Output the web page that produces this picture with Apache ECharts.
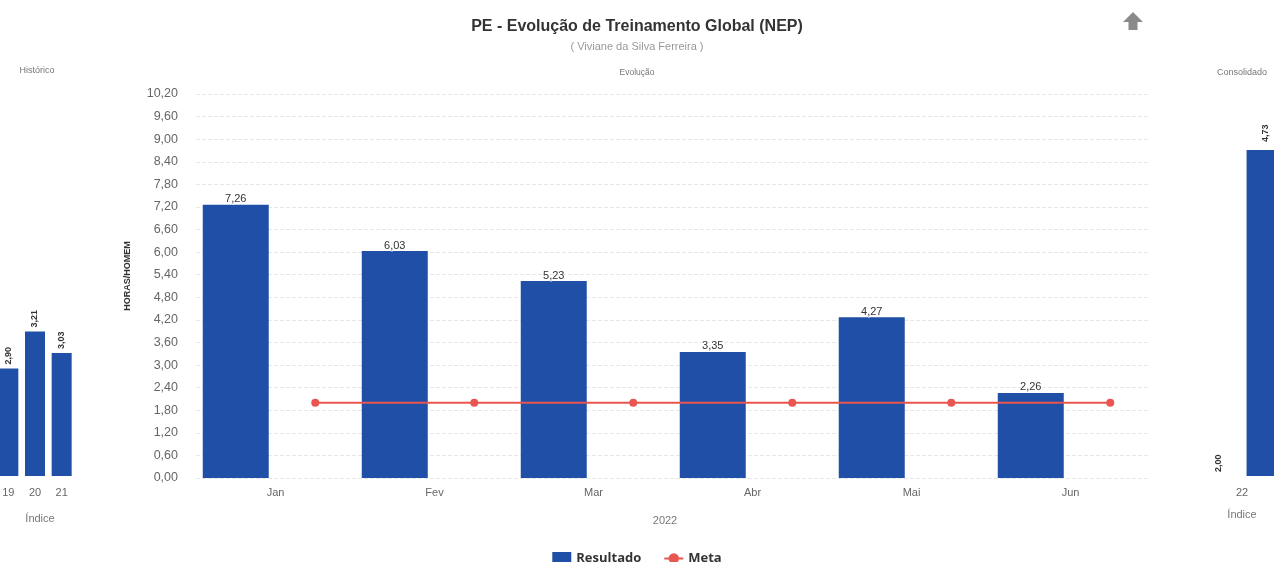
<!DOCTYPE html>
<html>
<head>
<meta charset="utf-8">
<script src="https://cdn.jsdelivr.net/npm/echarts@6/dist/echarts.min.js"></script>
<style>
  html, body { margin: 0; padding: 0; background: #ffffff; overflow: hidden; width: 1274px; height: 562px; position: relative; }
  /* the dashboard is wider than the window: the side panels are cut at both edges */
  #chart { position: absolute; left: -100px; top: 0; width: 1474px; height: 562px; }
</style>
</head>
<body>
<div id="chart"></div>
<script>
// ---- Data ----
const histCategories = ['19', '20', '21'];
const histResultado = [2.90, 3.21, 3.03];

const months = ['Jan', 'Fev', 'Mar', 'Abr', 'Mai', 'Jun'];
const resultado = [7.26, 6.03, 5.23, 3.35, 4.27, 2.26];
const meta = [2.00, 2.00, 2.00, 2.00, 2.00, 2.00];

const consCategories = ['22'];
const consResultado = [4.73];
const consMeta = [2.00];

const mainYMin = 0, mainYMax = 10.2, mainYStep = 0.6;
const sideYMin = 2.0, sideYMax = 5.2;

// ---- Helpers ----
const OFF = 100; // chart canvas starts 100px left of the window
const fmt = v => Number(v).toFixed(2).replace('.', ',');
const BLUE = '#1f4fa6';
const RED = '#e8564f';
const FONT = 'Liberation Sans, Arial, sans-serif';

// main chart: each month split in two slots (bar slot, meta slot)
const slotCats = months.flatMap(m => [m + '_r', m + '_m']);
const slotBars = resultado.flatMap(v => [v, '-']);
const slotMeta = meta.flatMap(v => ['-', v]);

const chart = echarts.init(document.getElementById('chart'), null, { renderer: 'canvas' });

const rotLabel = (dist) => ({
  show: true, position: 'top', rotate: 90, align: 'left', verticalAlign: 'middle',
  distance: dist, fontSize: 9, fontWeight: 'bold', color: '#333', fontFamily: FONT,
  formatter: p => fmt(p.value)
});

const option = {
  backgroundColor: '#ffffff',
  animation: false,
  textStyle: { fontFamily: FONT },
  legend: {
    bottom: -3, left: 'center', padding: 0,
    itemWidth: 19, itemHeight: 13, itemGap: 22,
    textStyle: { fontSize: 13, fontWeight: 'bold', color: '#333', fontFamily: 'Open Sans, sans-serif' },
    data: [{ name: 'Resultado', icon: 'rect' }, { name: 'Meta' }]
  },
  graphic: [
    { type: 'text', left: 'center', top: 19, style: { text: 'PE - Evolução de Treinamento Global (NEP)', font: 'bold 16px ' + FONT, fill: '#333' } },
    { type: 'text', left: 'center', top: 41, style: { text: '( Viviane da Silva Ferreira )', font: '11px ' + FONT, fill: '#999' } },
    { type: 'text', x: OFF + 37, y: 71, style: { text: 'Histórico', font: '9px ' + FONT, fill: '#777', align: 'center', verticalAlign: 'middle' } },
    { type: 'text', x: OFF + 637, y: 73, style: { text: 'Evolução', font: '8.5px ' + FONT, fill: '#777', align: 'center', verticalAlign: 'middle' } },
    { type: 'text', x: OFF + 1242, y: 73, style: { text: 'Consolidado', font: '9px ' + FONT, fill: '#777', align: 'center', verticalAlign: 'middle' } },
    { type: 'polygon', shape: { points: [[OFF + 1133, 12], [OFF + 1123, 22], [OFF + 1128.5, 22], [OFF + 1128.5, 30], [OFF + 1137.5, 30], [OFF + 1137.5, 22], [OFF + 1143, 22]] }, style: { fill: '#8a8a8a' } }
  ],
  grid: [
    { left: OFF - 5, width: 80, top: 94, bottom: 86 },
    { left: OFF + 196, width: 954, top: 94, bottom: 84 },
    { left: OFF + 1200, width: 84, top: 94, bottom: 86 }
  ],
  xAxis: [
    { gridIndex: 0, type: 'category', data: histCategories,
      axisLine: { show: false }, axisTick: { show: false },
      axisLabel: { fontSize: 11, color: '#666', margin: 11 },
      name: 'Índice', nameLocation: 'middle', nameGap: 37,
      nameTextStyle: { fontSize: 11, color: '#777', padding: [0, 0, 0, 10] } },
    { gridIndex: 1, type: 'category', data: months,
      axisLine: { show: false }, axisTick: { show: false },
      axisLabel: { fontSize: 11, color: '#666', margin: 9 },
      name: '2022', nameLocation: 'middle', nameGap: 37,
      nameTextStyle: { fontSize: 11, color: '#777', padding: [0, 16, 0, 0] } },
    { gridIndex: 1, type: 'category', data: slotCats, show: false },
    { gridIndex: 2, type: 'category', data: consCategories,
      axisLine: { show: false }, axisTick: { show: false },
      axisLabel: { fontSize: 11, color: '#666', margin: 11 },
      name: 'Índice', nameLocation: 'middle', nameGap: 33,
      nameTextStyle: { fontSize: 11, color: '#777' } }
  ],
  yAxis: [
    { gridIndex: 0, type: 'value', min: sideYMin, max: sideYMax, show: false },
    { gridIndex: 1, type: 'value', min: mainYMin, max: mainYMax, interval: mainYStep,
      axisLine: { show: false }, axisTick: { show: false },
      axisLabel: { fontSize: 12.5, color: '#666', margin: 18, formatter: v => fmt(v) },
      splitLine: { show: true, lineStyle: { color: '#e8e8e8', type: 'dashed', width: 1 } },
      name: 'HORAS/HOMEM', nameLocation: 'middle', nameGap: 64, nameRotate: 90,
      nameTextStyle: { fontSize: 9, fontWeight: 'bold', color: '#333', padding: [0, 0, 0, 20] } },
    { gridIndex: 2, type: 'value', min: sideYMin, max: sideYMax, show: false }
  ],
  series: [
    { name: 'Resultado', type: 'bar', xAxisIndex: 0, yAxisIndex: 0,
      data: histResultado, barWidth: 20, itemStyle: { color: BLUE }, label: rotLabel(4) },
    { name: 'Resultado', type: 'bar', xAxisIndex: 2, yAxisIndex: 1,
      data: slotBars, barWidth: 66, itemStyle: { color: BLUE },
      label: { show: true, position: 'top', distance: 0, fontSize: 11, color: '#333',
        textBorderColor: '#fff', textBorderWidth: 2, formatter: p => fmt(p.value) } },
    { name: 'Meta', type: 'line', xAxisIndex: 2, yAxisIndex: 1,
      data: slotMeta, connectNulls: true, symbol: 'circle', symbolSize: 8,
      lineStyle: { color: RED, width: 2 }, itemStyle: { color: RED }, z: 5 },
    { name: 'Meta', type: 'bar', xAxisIndex: 3, yAxisIndex: 2,
      data: consMeta, barWidth: 38, barGap: '24%', itemStyle: { color: RED }, label: rotLabel(4) },
    { name: 'Resultado', type: 'bar', xAxisIndex: 3, yAxisIndex: 2,
      data: consResultado, barWidth: 38, barGap: '24%', itemStyle: { color: BLUE }, label: rotLabel(8) }
  ]
};
chart.setOption(option);
</script>
</body>
</html>
